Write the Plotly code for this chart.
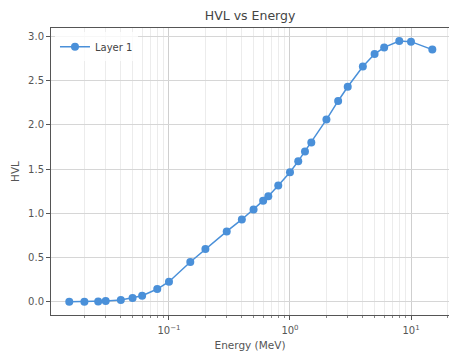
import plotly.graph_objects as go

energy_mev = [0.015, 0.02, 0.026, 0.03, 0.04, 0.05, 0.06, 0.08, 0.1, 0.15, 0.2, 0.3,
              0.4, 0.5, 0.6, 0.662, 0.8, 1.0, 1.17, 1.33, 1.5, 2.0, 2.5, 3.0, 4.0,
              5.0, 6.0, 8.0, 10.0, 15.0]
hvl = [0.004, 0.004, 0.006, 0.011, 0.022, 0.045, 0.071, 0.146, 0.229, 0.451, 0.598, 0.797,
       0.932, 1.045, 1.142, 1.195, 1.316, 1.466, 1.59, 1.70, 1.80, 2.06, 2.27, 2.43, 2.66,
       2.80, 2.875, 2.947, 2.94, 2.85]
series_name = "Layer 1"
major_ticks = [0.1, 1, 10]
major_text = ["10<sup>−1</sup>", "10<sup>0</sup>", "10<sup>1</sup>"]
minor_ticks = [m * 10 ** e for e in (-2, -1, 0, 1) for m in range(2, 10)]
y_ticks = [0.0, 0.5, 1.0, 1.5, 2.0, 2.5, 3.0]

color = "#4a90d9"
font = "DejaVu Sans, Liberation Sans, sans-serif"

fig = go.Figure()
fig.add_trace(go.Scatter(
    x=energy_mev, y=hvl, mode="lines+markers", name=series_name,
    line=dict(color=color, width=1.5),
    marker=dict(color=color, size=8),
))

fig.update_layout(
    width=449, height=353,
    margin=dict(l=51, r=0, t=28, b=38),
    paper_bgcolor="white", plot_bgcolor="white",
    font=dict(family=font, size=10, color="#555"),
    title=dict(text="HVL vs Energy", x=0.557, xanchor="center", y=0.955, yanchor="middle",
               font=dict(family=font, size=12.5, color="#444")),
    showlegend=True,
    legend=dict(x=0.01, y=0.985, xanchor="left", yanchor="top",
                bgcolor="rgba(255,255,255,0.8)", borderwidth=0,
                font=dict(family=font, size=10, color="#444")),
)

fig.update_xaxes(
    type="log", range=[-1.975, 1.314],
    tickmode="array", tickvals=major_ticks, ticktext=major_text,
    ticks="outside", ticklen=4, tickcolor="#555", ticklabelstandoff=2,
    showgrid=True, gridcolor="#cfcfcf", gridwidth=0.8,
    minor=dict(tickmode="array", tickvals=minor_ticks, ticks="outside", ticklen=2,
               tickcolor="#888", showgrid=True, gridcolor="#ececec", gridwidth=0.8),
    showline=True, linecolor="#555", linewidth=1, mirror=True,
    zeroline=False,
    title=dict(text="Energy (MeV)", font=dict(family=font, size=10.5, color="#555"), standoff=6),
)
fig.update_yaxes(
    range=[-0.147, 3.094],
    tickmode="array", tickvals=y_ticks, ticktext=[f"{v:.1f}" for v in y_ticks],
    ticks="outside", ticklen=4, tickcolor="#555",
    showgrid=True, gridcolor="#d6d6d6", gridwidth=0.8,
    showline=True, linecolor="#555", linewidth=1, mirror=True,
    zeroline=False,
    title=dict(text="HVL", font=dict(family=font, size=10.5, color="#555"), standoff=6),
)

fig.write_html("out.html")
